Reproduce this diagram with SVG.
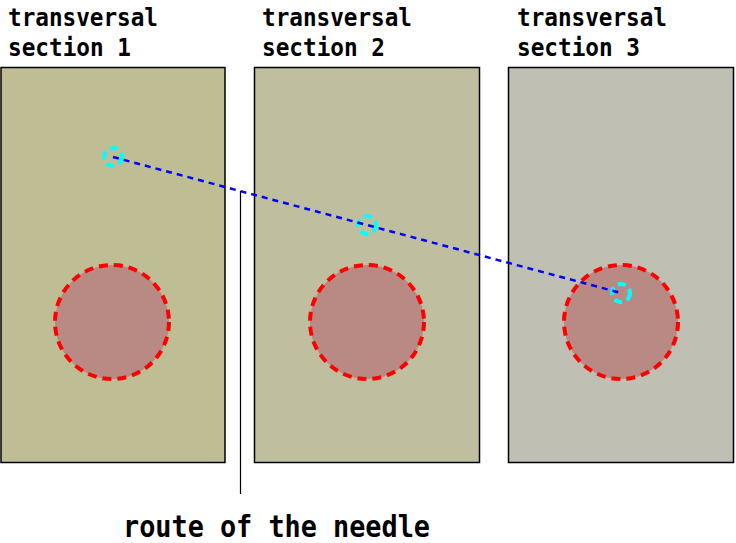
<svg xmlns="http://www.w3.org/2000/svg" width="736" height="543" viewBox="0 0 736 543">
<style>
.panel{stroke:#000;stroke-width:1.5}
.tumor{fill:#b98984;stroke:#ff0000;stroke-width:4;stroke-dasharray:9,6}
.tip{fill:none;stroke:#00ffff;stroke-width:4;stroke-dasharray:8,5}
.lbl{font-family:"DejaVu Sans Mono","Liberation Mono",monospace;font-size:25px;font-weight:bold;fill:#000}
.big{font-size:31px}
</style>
<rect width="736" height="543" fill="#fff"/>
<g id="section1">
<rect class="panel" x="1" y="67.5" width="224" height="395" fill="#bfbd94"/>
<circle class="tumor" cx="112" cy="322" r="57"/>
<circle class="tip" cx="113" cy="157" r="9"/>
<text class="lbl" x="8" y="26" textLength="150" lengthAdjust="spacingAndGlyphs">transversal</text>
<text class="lbl" x="8" y="56" textLength="123" lengthAdjust="spacingAndGlyphs">section 1</text>
</g>
<g id="section2">
<rect class="panel" x="254.5" y="67.5" width="225" height="395" fill="#bfbfa0"/>
<circle class="tumor" cx="367" cy="322" r="57"/>
<circle class="tip" cx="367" cy="225" r="9"/>
<text class="lbl" x="262" y="26" textLength="150" lengthAdjust="spacingAndGlyphs">transversal</text>
<text class="lbl" x="262" y="56" textLength="123" lengthAdjust="spacingAndGlyphs">section 2</text>
</g>
<g id="section3">
<rect class="panel" x="508.5" y="67.5" width="225" height="395" fill="#bfbfb4"/>
<circle class="tumor" cx="621" cy="322" r="57"/>
<circle class="tip" cx="621" cy="293" r="9"/>
<text class="lbl" x="517" y="26" textLength="150" lengthAdjust="spacingAndGlyphs">transversal</text>
<text class="lbl" x="517" y="56" textLength="123" lengthAdjust="spacingAndGlyphs">section 3</text>
</g>
<g id="connectors">
<line x1="113" y1="157" x2="621" y2="293" stroke="#0000ff" stroke-width="2.5" stroke-dasharray="6,5"/>
<line x1="240.5" y1="191" x2="240.5" y2="494" stroke="#000" stroke-width="1.2"/>
</g>
<g id="label">
<text class="lbl big" x="123" y="537" textLength="307" lengthAdjust="spacingAndGlyphs">route of the needle</text>
</g>
</svg>
